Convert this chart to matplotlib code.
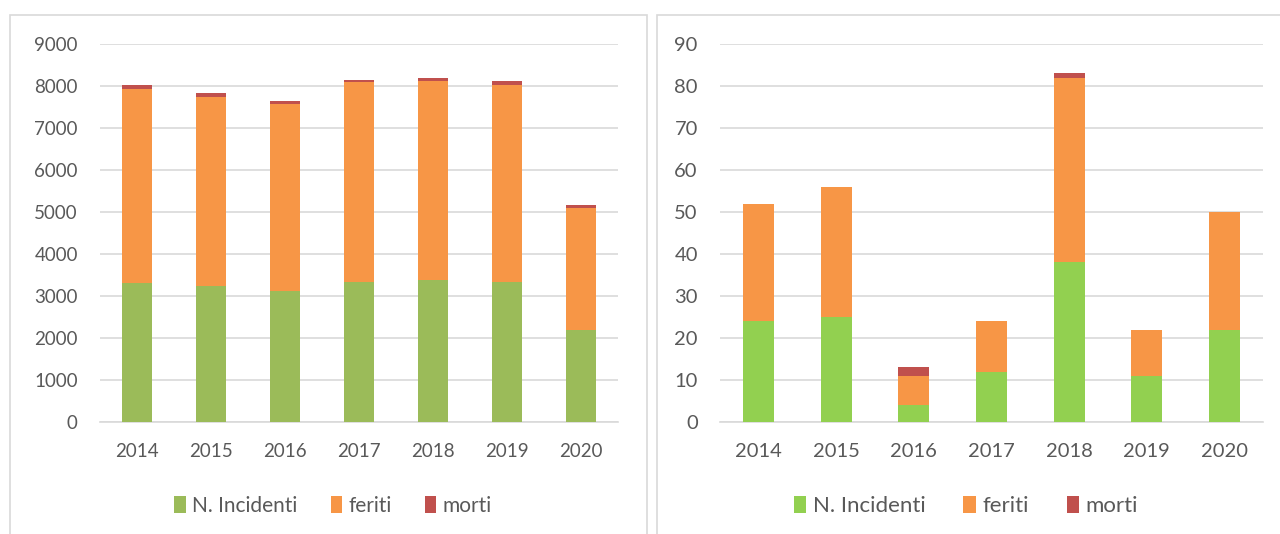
import matplotlib
matplotlib.use("Agg")
import matplotlib.pyplot as plt
from matplotlib.patches import Rectangle
import numpy as np

plt.rcParams['font.family'] = ['Lato', 'DejaVu Sans']

years = ["2014", "2015", "2016", "2017", "2018", "2019", "2020"]
series_names = ["N. Incidenti", "feriti", "morti"]

# Left chart
left_incidenti = [3300, 3240, 3110, 3330, 3380, 3340, 2190]
left_feriti = [4620, 4510, 4460, 4760, 4730, 4690, 2905]
left_morti = [95, 95, 80, 55, 88, 87, 72]
left_yticks = [0, 1000, 2000, 3000, 4000, 5000, 6000, 7000, 8000, 9000]

# Right chart
right_incidenti = [24, 25, 4, 12, 38, 11, 22]
right_feriti = [28, 31, 7, 12, 44, 11, 28]
right_morti = [0, 0, 2, 0, 1, 0, 0]
right_yticks = [0, 10, 20, 30, 40, 50, 60, 70, 80, 90]

W, H = 1280, 534
fig = plt.figure(figsize=(12.8, 5.34), dpi=100)

grid_c = "#d9d9d9"
text_c = "#595959"

# panel borders
for x0, x1 in [(10, 647), (657, 1290)]:
    fig.add_artist(Rectangle((x0 / W, -0.05), (x1 - x0) / W, (H - 15) / H + 0.05,
                             transform=fig.transFigure, fill=False,
                             edgecolor=grid_c, lw=1.2))


def draw(ax, inc, fer, mor, yticks, green, legend_x, fs, lfs, colsp):
    x = np.arange(len(years))
    inc = np.array(inc); fer = np.array(fer); mor = np.array(mor)
    w = 0.4
    b1 = ax.bar(x, inc, w, color=green, label=series_names[0], zorder=3)
    b2 = ax.bar(x, fer, w, bottom=inc, color="#F79646", label=series_names[1], zorder=3)
    b3 = ax.bar(x, mor, w, bottom=inc + fer, color="#C0504D", label=series_names[2], zorder=3)
    ax.set_xlim(-0.5, len(years) - 0.5)
    ax.set_ylim(yticks[0], yticks[-1])
    ax.set_yticks(yticks)
    ax.set_xticks(x)
    ax.set_xticklabels(years)
    ax.grid(axis='y', color=grid_c, lw=1.2, zorder=0)
    for s in ["top", "right", "left"]:
        ax.spines[s].set_visible(False)
    ax.spines["bottom"].set_color(grid_c)
    ax.spines["bottom"].set_linewidth(1.2)
    ax.tick_params(axis='y', length=0, pad=16, labelsize=fs, labelcolor=text_c)
    ax.tick_params(axis='x', length=0, pad=15, labelsize=fs, labelcolor=text_c)
    fig.legend(handles=[b1, b2, b3], labels=series_names, loc='center',
               bbox_to_anchor=(legend_x, 1 - 506 / H), ncol=3, frameon=False,
               fontsize=lfs, labelcolor=text_c, handlelength=0.55, handleheight=0.85,
               handletextpad=0.3, columnspacing=colsp)


axL = fig.add_axes([100 / W, 1 - 422 / H, 518 / W, 378 / H])
draw(axL, left_incidenti, left_feriti, left_morti, left_yticks, "#9BBB59", 333 / W,
     13.5, 15, 1.6)

axR = fig.add_axes([720 / W, 1 - 422 / H, 543 / W, 378 / H])
draw(axR, right_incidenti, right_feriti, right_morti, right_yticks, "#92D050", 966 / W,
     14.5, 16, 1.7)

fig.savefig("out.png", dpi=100)
